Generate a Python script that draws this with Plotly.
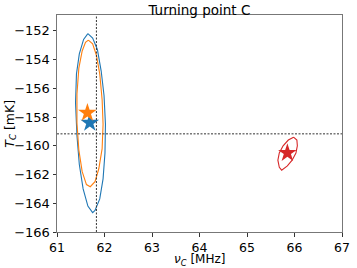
import plotly.graph_objects as go

# Contour points (closed loops)
blue_x = [61.65, 61.75, 61.85, 61.93, 61.99, 62.02, 62.01, 61.97, 61.90, 61.80, 61.75,
          61.65, 61.55, 61.47, 61.42, 61.39, 61.41, 61.47, 61.56, 61.65]
blue_y = [-152.2, -152.5, -153.3, -154.8, -156.5, -158.5, -160.5, -162.3, -163.7, -164.5, -164.65,
          -164.2, -163.0, -161.3, -159.3, -157.0, -155.0, -153.6, -152.6, -152.2]

orange_x = [61.66, 61.75, 61.83, 61.90, 61.95, 61.97, 61.95, 61.88, 61.80, 61.70,
            61.62, 61.53, 61.46, 61.42, 61.42, 61.46, 61.53, 61.60, 61.66]
orange_y = [-152.65, -152.9, -153.7, -155.0, -156.8, -158.5, -160.2, -161.6, -162.5, -162.85,
            -162.7, -161.8, -160.3, -158.4, -156.4, -154.6, -153.4, -152.8, -152.65]

red_x = [65.98, 66.05, 66.06, 66.03, 65.95, 65.85, 65.73, 65.68, 65.65, 65.68, 65.76, 65.87, 65.98]
red_y = [-159.4, -159.6, -160.0, -160.5, -161.0, -161.4, -161.7, -161.5, -161.0, -160.5, -160.0, -159.6, -159.4]

star_x = [61.69, 61.64, 65.85]
star_y = [-158.4, -157.7, -160.5]
colors = ["#1f77b4", "#ff7f0e", "#d62728"]

ref_nu = 61.83
ref_T = -159.17

x_range = [61, 67]
y_range = [-166, -150.9]
x_ticks = [61, 62, 63, 64, 65, 66, 67]
y_ticks = [-166, -164, -162, -160, -158, -156, -154, -152]

title_text = "Turning point C"
x_title = "<i>ν</i><sub><i>C</i></sub> [MHz]"
y_title = "<i>T</i><sub><i>C</i></sub> [mK]"

fig = go.Figure()
for xs, ys, c in [(blue_x, blue_y, colors[0]), (orange_x, orange_y, colors[1]), (red_x, red_y, colors[2])]:
    fig.add_trace(go.Scatter(x=xs, y=ys, mode="lines", line=dict(color=c, width=1.1),
                             showlegend=False, hoverinfo="skip"))

fig.add_shape(type="line", x0=ref_nu, x1=ref_nu, y0=0, y1=1, xref="x", yref="paper",
              line=dict(color="#333", width=1, dash="2px,1.5px"))
fig.add_shape(type="line", x0=0, x1=1, y0=ref_T, y1=ref_T, xref="paper", yref="y",
              line=dict(color="#333", width=1, dash="2px,1.5px"))

for sx, sy, c in zip(star_x, star_y, colors):
    fig.add_trace(go.Scatter(x=[sx], y=[sy], mode="markers",
                             marker=dict(symbol="star", size=14, color=c, line=dict(width=0)),
                             showlegend=False))

fam = "DejaVu Sans"
fig.add_annotation(text=x_title, xref="paper", yref="paper", x=0.5, y=-0.128,
                   xanchor="center", yanchor="middle", showarrow=False,
                   font=dict(family=fam, size=12, color="black"))
fig.add_annotation(text=y_title, xref="paper", yref="paper", x=-0.164, y=0.5,
                   xanchor="center", yanchor="middle", showarrow=False, textangle=-90,
                   font=dict(family=fam, size=12.5, color="black"))

fig.update_layout(
    width=357, height=268,
    margin=dict(l=57, r=15, t=15, b=36, autoexpand=False),
    paper_bgcolor="white", plot_bgcolor="white",
    font=dict(family=fam, size=13, color="black"),
    title=dict(text=title_text, x=0.5585, xanchor="center", y=0.962, yanchor="middle",
               font=dict(family=fam, size=13.5, color="black")),
    xaxis=dict(range=x_range, tickvals=x_ticks, showgrid=False, zeroline=False,
               showline=True, mirror=True, linecolor="#777", linewidth=1,
               ticks="outside", ticklen=3.5, tickcolor="#333", automargin=False,
               tickfont=dict(family=fam, size=12.5)),
    yaxis=dict(range=y_range, tickvals=y_ticks, showgrid=False, zeroline=False,
               showline=True, mirror=True, linecolor="#777", linewidth=1,
               ticks="outside", ticklen=3.5, tickcolor="#333", automargin=False,
               tickfont=dict(family=fam, size=13)),
)

fig.write_html("out.html", config={"displayModeBar": False},
               post_script="document.body.style.margin='0';document.body.style.padding='0';")
